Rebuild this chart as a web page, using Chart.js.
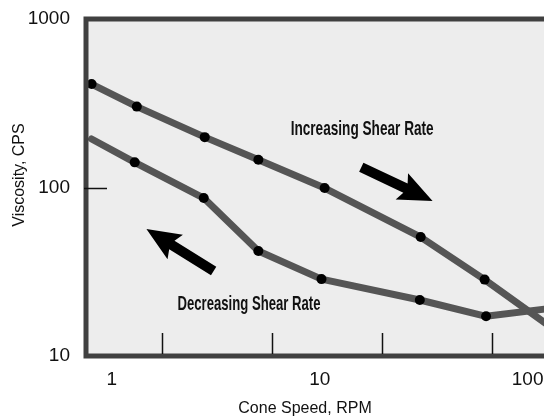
<!DOCTYPE html>
<html>
<head>
<meta charset="utf-8">
<script src="https://cdn.jsdelivr.net/npm/chart.js@4/dist/chart.umd.min.js"></script>
<style>
  html, body { margin: 0; padding: 0; background: #fff; overflow: hidden; }
  #wrap { width: 544px; height: 419px; overflow: hidden; }
</style>
</head>
<body>
<div id="wrap"><canvas id="myChart" width="600" height="419"></canvas></div>
<script>
// cone speed (RPM) and viscosity (CPS)
const incSpeed = [0.8, 1.32, 2.8, 5.07, 10.56, 30.6, 62.1, 135];
const incViscosity = [411, 302, 199, 146, 99.3, 50.8, 28.4, 14.3];
const decSpeed = [0.8, 1.29, 2.77, 5.07, 10.2, 30.3, 63.1, 135];
const decViscosity = [194, 141, 86.6, 42.0, 28.6, 21.5, 17.2, 19.3];

const xLabels = [1, 10, 100];
const xMinorTicks = [1.75, 5.9, 20, 67.6];
const yLabels = [10, 100, 1000];
const yMinorTicks = [100];

// annotation text and arrows, placed in data space
const notes = [
    { text: 'Increasing Shear Rate', x: 16.0, y: 222 },
    { text: 'Decreasing Shear Rate', x: 4.57, y: 20.4 }
];
const arrows = [
    { from: [15.85, 132], to: [34.9, 83.2] },
    { from: [3.09, 31.9], to: [1.468, 56.7] }
];

const decor = {
    id: 'decor',
    beforeDraw(chart) {
        const { ctx, chartArea: a } = chart;
        ctx.save();
        ctx.fillStyle = '#ededed';
        ctx.fillRect(a.left, a.top, a.right - a.left, a.bottom - a.top);
        ctx.restore();
    },
    afterDatasetsDraw(chart) {
        const { ctx, chartArea: a } = chart;
        const xs = chart.scales.x, ys = chart.scales.y;
        ctx.save();
        ctx.strokeStyle = '#404040';
        ctx.lineWidth = 5;
        ctx.strokeRect(a.left, a.top, a.right - a.left, a.bottom - a.top);

        // inside tick marks
        ctx.strokeStyle = '#111';
        ctx.lineWidth = 1.5;
        xMinorTicks.forEach(v => {
            const px = Math.round(xs.getPixelForValue(v)) + 0.5;
            ctx.beginPath();
            ctx.moveTo(px, a.bottom - 2);
            ctx.lineTo(px, a.bottom - 23);
            ctx.stroke();
        });
        yMinorTicks.forEach(v => {
            const py = Math.round(ys.getPixelForValue(v)) + 0.5;
            ctx.beginPath();
            ctx.moveTo(a.left - 2, py);
            ctx.lineTo(a.left + 21, py);
            ctx.stroke();
        });

        // arrows
        ctx.fillStyle = '#000';
        arrows.forEach(ar => {
            const x0 = xs.getPixelForValue(ar.from[0]), y0 = ys.getPixelForValue(ar.from[1]);
            const x1 = xs.getPixelForValue(ar.to[0]), y1 = ys.getPixelForValue(ar.to[1]);
            const len = Math.hypot(x1 - x0, y1 - y0);
            const ang = Math.atan2(y1 - y0, x1 - x0);
            const headLen = 34, headW = 14.5, shaftW = 5;
            ctx.save();
            ctx.translate(x0, y0);
            ctx.rotate(ang);
            ctx.beginPath();
            ctx.moveTo(0, -shaftW);
            ctx.lineTo(len - headLen + 4, -shaftW);
            ctx.lineTo(len - headLen, -headW);
            ctx.lineTo(len, 0);
            ctx.lineTo(len - headLen, headW);
            ctx.lineTo(len - headLen + 4, shaftW);
            ctx.lineTo(0, shaftW);
            ctx.closePath();
            ctx.fill();
            ctx.restore();
        });

        // condensed annotation text
        ctx.font = 'bold 21px "Liberation Sans", Arial, sans-serif';
        ctx.textAlign = 'center';
        ctx.textBaseline = 'middle';
        notes.forEach(n => {
            const sx = 143 / ctx.measureText(n.text).width;
            ctx.save();
            ctx.translate(xs.getPixelForValue(n.x), ys.getPixelForValue(n.y));
            ctx.scale(sx, 1);
            ctx.fillStyle = '#111';
            ctx.fillText(n.text, 0, 0);
            ctx.restore();
        });

        // axis titles
        ctx.font = '16px "Liberation Sans", Arial, sans-serif';
        ctx.fillStyle = '#111';
        ctx.fillText('Cone Speed, RPM', 305, 409);
        ctx.save();
        ctx.translate(20, 175);
        ctx.rotate(-Math.PI / 2);
        ctx.fillText('Viscosity, CPS', 0, 0);
        ctx.restore();
        ctx.restore();
    }
};

function makeChart() {
    const ctx = document.getElementById('myChart').getContext('2d');
    new Chart(ctx, {
        type: 'line',
        data: {
            datasets: [{
                label: 'Increasing',
                data: incSpeed.map((s, i) => ({ x: s, y: incViscosity[i] })),
                borderColor: '#555555',
                borderWidth: 7,
                borderCapStyle: 'round',
                borderJoinStyle: 'round',
                pointRadius: 5,
                pointBackgroundColor: '#000',
                pointBorderWidth: 0,
                tension: 0
            }, {
                label: 'Decreasing',
                data: decSpeed.map((s, i) => ({ x: s, y: decViscosity[i] })),
                borderColor: '#555555',
                borderWidth: 7,
                borderCapStyle: 'round',
                borderJoinStyle: 'round',
                pointRadius: decSpeed.map((s, i) => i === 0 ? 0 : 5),
                pointBackgroundColor: '#000',
                pointBorderWidth: 0,
                tension: 0
            }]
        },
        options: {
            responsive: false,
            animation: false,
            devicePixelRatio: 1,
            layout: { padding: { top: 19, right: 0, left: 0, bottom: 0 } },
            plugins: { legend: { display: false }, tooltip: { enabled: false } },
            scales: {
                x: {
                    type: 'logarithmic',
                    min: 0.752,
                    max: 210.8,
                    afterBuildTicks: s => { s.ticks = xLabels.map(v => ({ value: v })); },
                    afterFit: s => { s.height = 63; s.paddingLeft = 0; s.paddingRight = 0; },
                    grid: { display: false, drawTicks: false },
                    border: { display: false },
                    ticks: {
                        padding: 12,
                        color: '#111',
                        maxRotation: 0,
                        font: { family: '"Liberation Sans", Arial, sans-serif', size: 19 },
                        callback: v => String(v)
                    }
                },
                y: {
                    type: 'logarithmic',
                    min: 10,
                    max: 1000,
                    afterBuildTicks: s => { s.ticks = yLabels.map(v => ({ value: v })); },
                    afterFit: s => { s.width = 86; s.paddingTop = 0; s.paddingBottom = 0; },
                    grid: { display: false, drawTicks: false },
                    border: { display: false },
                    ticks: {
                        padding: 16,
                        color: '#111',
                        font: { family: '"Liberation Sans", Arial, sans-serif', size: 19 },
                        callback: v => String(v)
                    }
                }
            }
        },
        plugins: [decor]
    });
}

makeChart();
</script>
</body>
</html>
